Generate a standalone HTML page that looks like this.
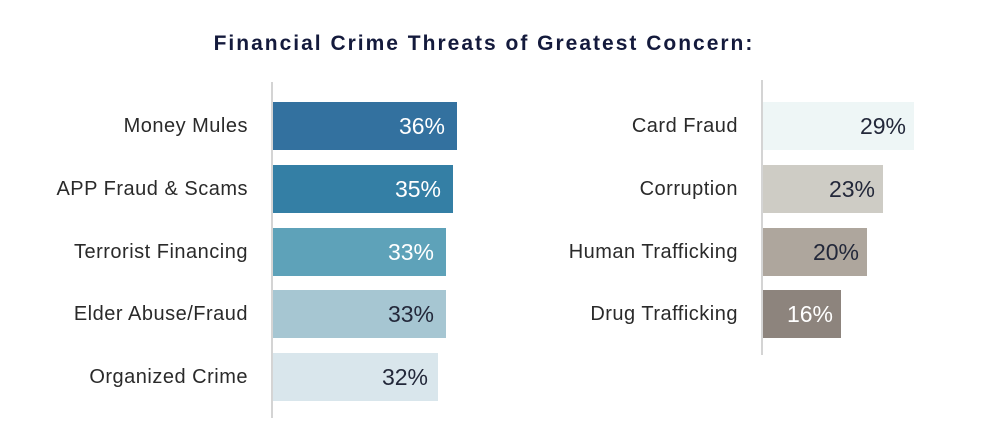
<!DOCTYPE html>
<html><head><style>
body{margin:0;width:1008px;height:431px;background:#fff;font-family:"Liberation Sans",sans-serif;position:relative;overflow:hidden}
.t{position:absolute;left:0;width:968px;top:32px;text-align:center;font-weight:bold;font-size:21px;letter-spacing:2px;color:#141a3c}
.ax{position:absolute;width:2px;background:#d4d4d4}
.b{position:absolute;height:48px}
.v{position:absolute;font-size:23px;text-align:right;line-height:48px}
.l{position:absolute;font-size:20px;letter-spacing:0.5px;color:#2a2a2a;text-align:right;line-height:48px}
</style></head><body>
<div class="t">Financial Crime Threats of Greatest Concern:</div>
<div class="ax" style="left:271px;top:82px;height:336px"></div>
<div class="ax" style="left:761px;top:80px;height:275px"></div>

<div class="l" style="left:0;width:248px;top:102px">Money Mules</div>
<div class="b" style="left:273px;width:184px;top:102px;background:#33719f"></div>
<div class="v" style="left:273px;width:172px;top:102px;color:#fff">36%</div>

<div class="l" style="left:0;width:248px;top:165px">APP Fraud &amp; Scams</div>
<div class="b" style="left:273px;width:180px;top:165px;background:#347fa5"></div>
<div class="v" style="left:273px;width:168px;top:165px;color:#fff">35%</div>

<div class="l" style="left:0;width:248px;top:228px">Terrorist Financing</div>
<div class="b" style="left:273px;width:173px;top:228px;background:#5ea2b9"></div>
<div class="v" style="left:273px;width:161px;top:228px;color:#fff">33%</div>

<div class="l" style="left:0;width:248px;top:290px">Elder Abuse/Fraud</div>
<div class="b" style="left:273px;width:173px;top:290px;background:#a6c6d2"></div>
<div class="v" style="left:273px;width:161px;top:290px;color:#23283a">33%</div>

<div class="l" style="left:0;width:248px;top:353px">Organized Crime</div>
<div class="b" style="left:273px;width:165px;top:353px;background:#d9e6ec"></div>
<div class="v" style="left:273px;width:155px;top:353px;color:#23283a">32%</div>

<div class="l" style="left:400px;width:338px;top:102px">Card Fraud</div>
<div class="b" style="left:763px;width:151px;top:102px;background:#eef6f6"></div>
<div class="v" style="left:763px;width:143px;top:102px;color:#23283a">29%</div>

<div class="l" style="left:400px;width:338px;top:165px">Corruption</div>
<div class="b" style="left:763px;width:120px;top:165px;background:#ceccc5"></div>
<div class="v" style="left:763px;width:112px;top:165px;color:#23283a">23%</div>

<div class="l" style="left:400px;width:338px;top:228px">Human Trafficking</div>
<div class="b" style="left:763px;width:104px;top:228px;background:#aea69d"></div>
<div class="v" style="left:763px;width:96px;top:228px;color:#23283a">20%</div>

<div class="l" style="left:400px;width:338px;top:290px">Drug Trafficking</div>
<div class="b" style="left:763px;width:78px;top:290px;background:#8d847d"></div>
<div class="v" style="left:763px;width:70px;top:290px;color:#fff">16%</div>
</body></html>
